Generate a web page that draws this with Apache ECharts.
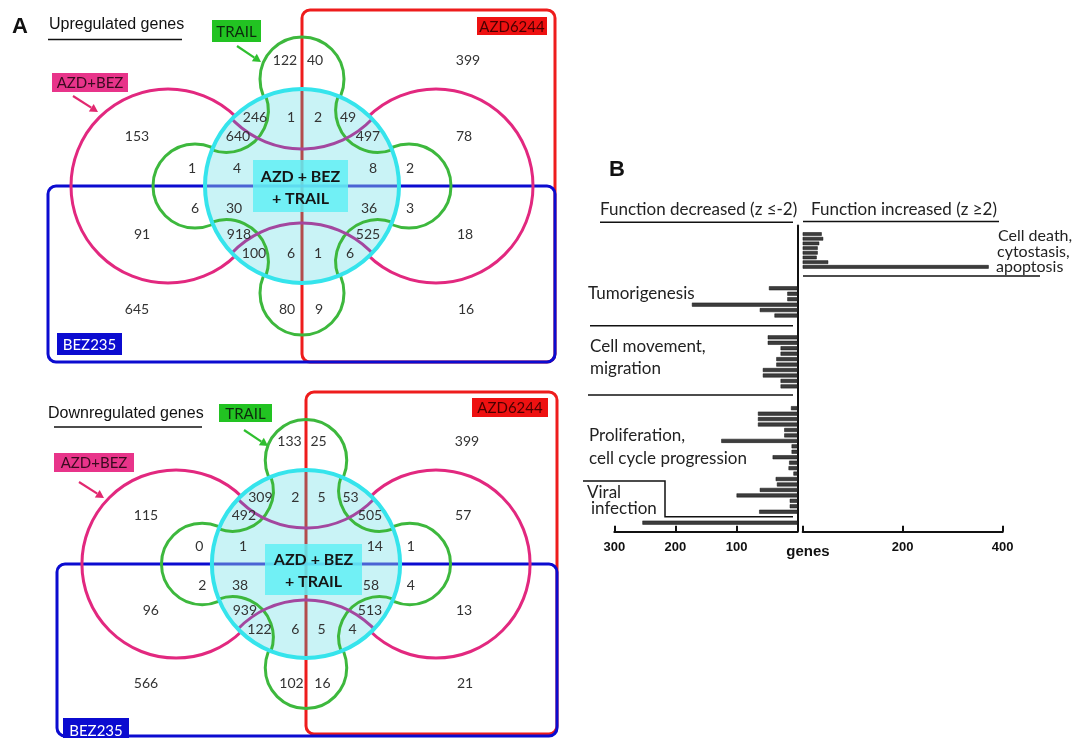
<!DOCTYPE html>
<html>
<head>
<meta charset="utf-8">
<script src="https://cdn.jsdelivr.net/npm/echarts@6/dist/echarts.min.js"></script>
<style>
  html, body { margin: 0; background: #fff; }
  #main { width: 1085px; height: 738px; }
</style>
</head>
<body>
<div id="main"></div>
<script>
// ---- A: Venn counts (same region order for both diagrams) ----
const upCounts = [122, 40, 399, 246, 1, 2, 49, 153, 640, 497, 78, 1, 4, 8, 2, 6, 30, 36, 3, 91, 918, 525, 18, 100, 6, 1, 6, 645, 80, 9, 16]
const downCounts = [133, 25, 399, 309, 2, 5, 53, 115, 492, 505, 57, 0, 1, 14, 1, 2, 38, 58, 4, 96, 939, 513, 13, 122, 6, 5, 4, 566, 102, 16, 21]

// ---- B: number of genes per function (z-score groups) ----
const tumorigenesis = [47, 17, 17, 173, 62, 38]
const cellMovement = [49, 49, 28, 28, 35, 35, 57, 57, 28, 28]
const proliferation = [11, 65, 65, 65, 22, 22, 125, 10, 10, 41, 14, 15, 7, 36, 34, 62, 100, 13, 13, 63]
const viralInfection = [254]
const cellDeath = [38, 41, 33, 30, 30, 28, 51, 372]
const decreasedTicks = [0, 100, 200, 300]
const increasedTicks = [0, 200, 400]

// 颜色
const RED = '#ee1c1c'
const BLUE = '#0b0bd0'
const PINK = '#e2287f'
const GREEN = '#3db83d'
const CYAN = '#35e4ec'
const CYANFILL = '#c9f3f6'
const PURPLE = '#a3479f'
const TXT = 'Lato, "Open Sans", sans-serif'

// region label offsets from the diagram centre (layout only)
const regionPos = [
  [-17, -126], [13, -126], [166, -126],
  [-47, -69], [-11, -69], [16, -69], [46, -69],
  [-165, -50], [-64, -50], [66, -50], [162, -50],
  [-110, -18], [-65, -18], [71, -18], [108, -18],
  [-107, 22], [-68, 22], [67, 22], [108, 22],
  [-160, 48], [-63, 48], [66, 48], [163, 48],
  [-48, 67], [-11, 67], [16, 67], [48, 67],
  [-165, 123], [-15, 123], [17, 123], [164, 123],
]

function text(x, y, str, o) {
  o = o || {}
  return {
    type: 'text', x: x, y: y,
    style: {
      text: str, fill: o.color || '#333', font: o.font || ('14px ' + TXT),
      align: o.align || 'center', verticalAlign: 'middle',
    },
  }
}
function line(x1, y1, x2, y2, color, w, op) {
  return {
    type: 'line', shape: { x1, y1, x2, y2 },
    style: { stroke: color, lineWidth: w || 2, opacity: op == null ? 1 : op },
  }
}
function arrow(a, color) {
  const [x1, y1, x2, y2] = a
  const ang = Math.atan2(y2 - y1, x2 - x1)
  const L = 8, W = 4.5
  const bx = x2 - L * Math.cos(ang), by = y2 - L * Math.sin(ang)
  return [
    line(x1, y1, bx, by, color, 2.2),
    {
      type: 'polygon',
      shape: { points: [[x2, y2], [bx + W * Math.sin(ang), by - W * Math.cos(ang)], [bx - W * Math.sin(ang), by + W * Math.cos(ang)]] },
      style: { fill: color },
    },
  ]
}
function labelBox(b, fill, str, color) {
  return [
    { type: 'rect', shape: { x: b[0], y: b[1], width: b[2] - b[0], height: b[3] - b[1] }, style: { fill: fill } },
    text((b[0] + b[2]) / 2, (b[1] + b[3]) / 2 + 1, str, { color: color, font: '15px ' + TXT }),
  ]
}

// 画一个四集合韦恩图
function venn(L, counts) {
  const { cx, cy, s } = L
  const R = 97 * s, pd = 107 * s, pr = 42 * s, bd = 134 * s, br = 97 * s
  const g = []
  const box = (b, color) => ({
    type: 'rect', shape: { x: b[0], y: b[1], width: b[2] - b[0], height: b[3] - b[1], r: 8 },
    style: { fill: 'none', stroke: color, lineWidth: 3 },
  })
  g.push(box(L.red, RED))
  g.push(box(L.blue, BLUE))
  // AZD+BEZ big circles
  ;[-1, 1].forEach((k) => {
    g.push({ type: 'circle', shape: { cx: cx + k * bd, cy: cy, r: br }, style: { fill: 'none', stroke: PINK, lineWidth: 3 } })
  })
  // TRAIL petals
  ;[[0, -1], [0, 1], [-1, 0], [1, 0]].forEach(([a, b]) => {
    g.push({ type: 'circle', shape: { cx: cx + a * pd, cy: cy + b * pd, r: pr }, style: { fill: 'none', stroke: GREEN, lineWidth: 3 } })
  })
  // centre disc
  g.push({ type: 'circle', shape: { cx, cy, r: R }, style: { fill: CYANFILL } })
  g.push(line(cx, cy - R, cx, cy + R, '#b03a3a', 3, 0.9))
  g.push(line(cx - R, cy, cx + R, cy, '#2b3fcc', 3, 0.8))
  // diagonal TRAIL petals, only inside the disc
  const phiG = Math.acos((pd * pd + pr * pr - R * R) / (2 * pd * pr))
  ;[-3, -1, 1, 3].forEach((q) => {
    const t = (q * Math.PI) / 4
    const dir = t + Math.PI
    g.push({
      type: 'arc',
      shape: { cx: cx + pd * Math.cos(t), cy: cy + pd * Math.sin(t), r: pr, startAngle: dir - phiG, endAngle: dir + phiG, clockwise: true },
      style: { fill: 'none', stroke: GREEN, lineWidth: 3 },
    })
  })
  // AZD+BEZ arcs inside the disc
  const phiP = Math.acos((bd * bd + br * br - R * R) / (2 * bd * br))
  ;[-1, 1].forEach((k) => {
    const dir = k < 0 ? Math.PI / 2 : -Math.PI / 2
    g.push({
      type: 'arc',
      shape: { cx: cx, cy: cy + k * bd, r: br, startAngle: dir - phiP, endAngle: dir + phiP, clockwise: true },
      style: { fill: 'none', stroke: PURPLE, lineWidth: 3 },
    })
  })
  g.push({ type: 'circle', shape: { cx, cy, r: R }, style: { fill: 'none', stroke: CYAN, lineWidth: 4 } })
  // centre label
  const c = L.center
  const ccx = (c[0] + c[2]) / 2, ccy = (c[1] + c[3]) / 2
  g.push({ type: 'rect', shape: { x: c[0], y: c[1], width: c[2] - c[0], height: c[3] - c[1] }, style: { fill: '#62eff4', opacity: 0.85 } })
  g.push(text(ccx, ccy - 9.5, 'AZD + BEZ', { color: '#151515', font: 'bold 16px ' + TXT }))
  g.push(text(ccx, ccy + 12.5, '+ TRAIL', { color: '#151515', font: 'bold 16px ' + TXT }))
  // counts
  counts.forEach((v, i) => {
    g.push(text(cx + regionPos[i][0] * s, cy + regionPos[i][1] * s, String(v)))
  })
  // set labels
  g.push(...labelBox(L.trail, '#22c322', 'TRAIL', '#0d2a0d'))
  g.push(...labelBox(L.azdbez, '#e8348a', 'AZD+BEZ', '#3a0a1f'))
  g.push(...labelBox(L.azd, '#ee1111', 'AZD6244', '#4a0000'))
  g.push(...labelBox(L.bez, '#0b0bd0', 'BEZ235', '#ffffff'))
  g.push(...arrow(L.trailArrow, '#2fbf2f'))
  g.push(...arrow(L.azdArrow, '#e2286f'))
  // title
  g.push(text(L.title[0], L.title[1], L.titleText, { align: 'left', color: '#111', font: '16px "Liberation Sans", Arial, sans-serif' }))
  g.push(line(L.underline[0], L.underline[2], L.underline[1], L.underline[2], '#111', 1.5))
  return g
}

const upLayout = {
  cx: 302, cy: 186, s: 1,
  red: [302, 10, 555, 362], blue: [48, 186, 555, 362],
  center: [253, 160, 348, 212],
  trail: [212, 20, 261, 42], trailArrow: [237, 46, 261, 62],
  azdbez: [52, 73, 128, 92], azdArrow: [73, 96, 98, 112],
  azd: [477, 17, 547, 35], bez: [57, 333, 122, 355],
  title: [49, 25], titleText: 'Upregulated genes', underline: [48, 182, 39.5],
}
const downLayout = {
  cx: 306, cy: 564, s: 0.97,
  red: [306, 392, 557, 734], blue: [57, 564, 557, 736],
  center: [265, 544, 362, 595],
  trail: [219, 404, 272, 422], trailArrow: [244, 430, 268, 446],
  azdbez: [54, 453, 134, 472], azdArrow: [79, 482, 104, 498],
  azd: [472, 398, 548, 417], bez: [63, 718, 129, 742],
  title: [48, 414], titleText: 'Downregulated genes', underline: [54, 202, 427],
}

// ---- B: bar slots ----
function pad(n) { return new Array(n).fill('-') }
const decreased = [].concat(pad(11), tumorigenesis, pad(3), cellMovement, pad(3), proliferation, pad(1), viralInfection, pad(1))
const increased = [].concat(cellDeath, pad(56))
const decSlots = decreased.map((v, i) => 'd' + i)
const incSlots = increased.map((v, i) => 'i' + i)

const BTXT = '17px ' + TXT
const BTXT2 = '16px ' + TXT
const panelB = [
  text(617, 170, 'B', { color: '#111', font: 'bold 22px "Liberation Sans", Arial, sans-serif' }),
  text(600, 210, 'Function decreased (z \u2264-2)', { align: 'left', color: '#222', font: BTXT }),
  line(600, 222.3, 793, 222.3, '#111', 1.5),
  text(811, 210, 'Function increased (z \u22652)', { align: 'left', color: '#222', font: BTXT }),
  line(803, 221.5, 999, 221.5, '#111', 1.5),
  text(998, 236, 'Cell death,', { align: 'left', color: '#222', font: BTXT2 }),
  text(997, 251.5, 'cytostasis,', { align: 'left', color: '#222', font: BTXT2 }),
  text(996, 267, 'apoptosis', { align: 'left', color: '#222', font: BTXT2 }),
  line(803, 276, 1040, 276, '#111', 1.5),
  text(588, 294, 'Tumorigenesis', { align: 'left', color: '#222', font: BTXT }),
  line(590, 325.7, 793, 325.7, '#111', 1.5),
  text(590, 346.5, 'Cell movement,', { align: 'left', color: '#222', font: BTXT }),
  text(590, 369, 'migration', { align: 'left', color: '#222', font: BTXT }),
  line(588, 395, 793, 395, '#111', 1.5),
  text(589, 436, 'Proliferation,', { align: 'left', color: '#222', font: BTXT }),
  text(589, 459, 'cell cycle progression', { align: 'left', color: '#222', font: BTXT }),
  text(587, 493, 'Viral', { align: 'left', color: '#222', font: BTXT }),
  text(591, 509, 'infection', { align: 'left', color: '#222', font: BTXT }),
  { type: 'polyline', shape: { points: [[583, 481], [665, 481], [665, 516.7], [793, 516.7]] }, style: { fill: 'none', stroke: '#111', lineWidth: 1.5 } },
  text(808, 552, 'genes', { color: '#111', font: 'bold 15px "Liberation Sans", Arial, sans-serif' }),
]

const graphic = [].concat(
  [text(20, 27, 'A', { color: '#111', font: 'bold 22px "Liberation Sans", Arial, sans-serif' })],
  venn(upLayout, upCounts),
  venn(downLayout, downCounts),
  panelB
)

const axisFont = { color: '#111', fontWeight: 'bold', fontSize: 13, fontFamily: '"Liberation Sans", Arial, sans-serif', margin: 9 }
const option = {
  animation: false,
  backgroundColor: '#fff',
  grid: [
    { left: 614.3, top: 225.6, width: 183.4, height: 305.2 },
    { left: 802.7, top: 231.7, width: 200, height: 300 },
  ],
  xAxis: [
    {
      gridIndex: 0, type: 'value', min: 0, max: decreasedTicks[decreasedTicks.length - 1], interval: 100, inverse: true, offset: 1,
      splitLine: { show: false },
      axisLine: { show: true, lineStyle: { color: '#111', width: 2 } },
      axisTick: { show: true, inside: true, length: 6, lineStyle: { color: '#111', width: 2 } },
      axisLabel: Object.assign({ formatter: (v) => (v === 0 ? '' : v) }, axisFont),
    },
    {
      gridIndex: 1, type: 'value', min: 0, max: increasedTicks[increasedTicks.length - 1], interval: 200,
      splitLine: { show: false },
      axisLine: { show: true, lineStyle: { color: '#111', width: 2 } },
      axisTick: { show: true, inside: true, length: 6, lineStyle: { color: '#111', width: 2 } },
      axisLabel: Object.assign({ formatter: (v) => (v === 0 ? '' : v) }, axisFont),
    },
  ],
  yAxis: [
    {
      gridIndex: 0, type: 'category', data: decSlots, inverse: true, position: 'right',
      axisLine: { show: true, lineStyle: { color: '#111', width: 2 } },
      axisTick: { show: false }, axisLabel: { show: false }, splitLine: { show: false },
    },
    {
      gridIndex: 1, type: 'category', data: incSlots, inverse: true,
      axisLine: { show: false }, axisTick: { show: false }, axisLabel: { show: false }, splitLine: { show: false },
    },
  ],
  series: [
    {
      name: 'decreased', type: 'bar', xAxisIndex: 0, yAxisIndex: 0, data: decreased, barWidth: 4,
      itemStyle: { color: '#3d3d3d', borderColor: '#111', borderWidth: 0.5 },
    },
    {
      name: 'increased', type: 'bar', xAxisIndex: 1, yAxisIndex: 1, data: increased, barWidth: 3.6,
      itemStyle: { color: '#3d3d3d', borderColor: '#111', borderWidth: 0.5 },
    },
  ],
  graphic: graphic,
}
echarts.init(document.getElementById('main')).setOption(option)
</script>
</body>
</html>
